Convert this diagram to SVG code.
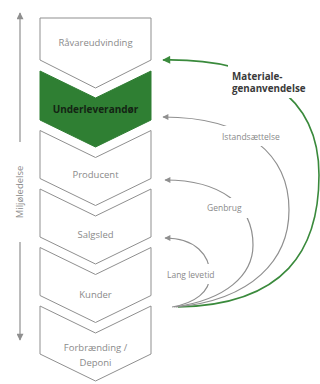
<svg xmlns="http://www.w3.org/2000/svg" width="320" height="384" viewBox="0 0 320 384">
<style>
.chev{fill:#fff;stroke:#8f8f8f;stroke-width:1}
.green{fill:#2f7f33;stroke:#2f7f33;stroke-width:1}
.lbl{font-family:"Open Sans","Noto Sans",sans-serif;font-size:9.5px;fill:#8a8a8a;text-anchor:middle}
.dark{font-family:"Open Sans","Noto Sans",sans-serif;font-size:10px;font-weight:bold;fill:#142414;text-anchor:middle}
.side{font-family:"Open Sans","Noto Sans",sans-serif;font-size:8.5px;fill:#8a8a8a}
.mat{font-family:"Open Sans","Noto Sans",sans-serif;font-size:9.8px;font-weight:bold;fill:#3a3a3a}
.g{fill:none;stroke:#8f8f8f;stroke-width:1.2}
.gr{fill:none;stroke:#3a8a3c;stroke-width:1.6}
</style>
<defs>
<marker id="ag" viewBox="0 0 10 10" refX="9" refY="5" markerWidth="8" markerHeight="6" orient="auto" markerUnits="userSpaceOnUse"><path d="M0,0 L10,5 L0,10 z" fill="#8f8f8f"/></marker>
<marker id="agr" viewBox="0 0 10 10" refX="9" refY="5" markerWidth="10" markerHeight="8" orient="auto" markerUnits="userSpaceOnUse"><path d="M0,0 L10,5 L0,10 z" fill="#3a8a3c"/></marker>
<marker id="av" viewBox="0 0 10 10" refX="9" refY="5" markerWidth="9" markerHeight="7" orient="auto" markerUnits="userSpaceOnUse"><path d="M0,0 L10,5 L0,10 z" fill="#8f8f8f"/></marker>
<mask id="m">
<rect x="0" y="0" width="320" height="384" fill="#fff"/>
<rect x="228" y="64" width="92" height="34" fill="#000"/>
<rect x="216" y="126" width="84" height="20" fill="#000"/>
<rect x="203" y="198" width="52" height="20" fill="#000"/>
<rect x="163" y="264" width="68" height="20" fill="#000"/>
</mask>
</defs>
<g id="axis">
<line x1="20" y1="142" x2="20" y2="13" stroke="#8f8f8f" stroke-width="1.2" marker-end="url(#av)"/>
<line x1="20" y1="242" x2="20" y2="340" stroke="#8f8f8f" stroke-width="1.2" marker-end="url(#av)"/>
<text class="lbl" transform="translate(23,192) rotate(-90)">Miljøledelse</text>
</g>
<g id="n1"><polygon class="chev" points="40,18 151,18 151,60 95.5,88 40,60"/><text class="lbl" x="95.5" y="46">Råvareudvinding</text></g>
<g id="n2"><polygon class="green" points="40,71 95.5,98 151,71 151,120 95.5,147 40,120"/><text class="dark" x="95.5" y="113">Underleverandør</text></g>
<g id="n3"><polygon class="chev" points="40,130.5 95.5,157.5 151,130.5 151,178.5 95.5,205.5 40,178.5"/><text class="lbl" x="95.5" y="178">Producent</text></g>
<g id="n4"><polygon class="chev" points="40,189 95.5,216 151,189 151,237 95.5,264 40,237"/><text class="lbl" x="95.5" y="238">Salgsled</text></g>
<g id="n5"><polygon class="chev" points="40,247.5 95.5,274.5 151,247.5 151,295.5 95.5,322.5 40,295.5"/><text class="lbl" x="95.5" y="298">Kunder</text></g>
<g id="n6"><polygon class="chev" points="40,306 95.5,333 151,306 151,354 95.5,381 40,354"/><text class="lbl" x="95.5" y="351">Forbrænding /</text><text class="lbl" x="95.5" y="366">Deponi</text></g>
<g id="connectors" mask="url(#m)">
<path class="gr" d="M178,307 C285,305 319,250 319,175 C319,95 258,58 163,60" marker-end="url(#agr)"/>
<path class="g" d="M176,307 C252,300 289,260 289,210 C289,155 247,117 163,117" marker-end="url(#ag)"/>
<path class="g" d="M174,307 C226,300 253,275 253,245 C253,205 221,180 165,180" marker-end="url(#ag)"/>
<path class="g" d="M172,307 C195,303 210,292 210,275 C210,255 195,238 165,238" marker-end="url(#ag)"/>
</g>
<g id="labels">
<text class="mat" x="232" y="80">Materiale-</text>
<text class="mat" x="232" y="92">genanvendelse</text>
<text class="side" x="222" y="140">Istandsættelse</text>
<text class="side" x="207" y="211">Genbrug</text>
<text class="side" x="167" y="278">Lang levetid</text>
</g>
</svg>
